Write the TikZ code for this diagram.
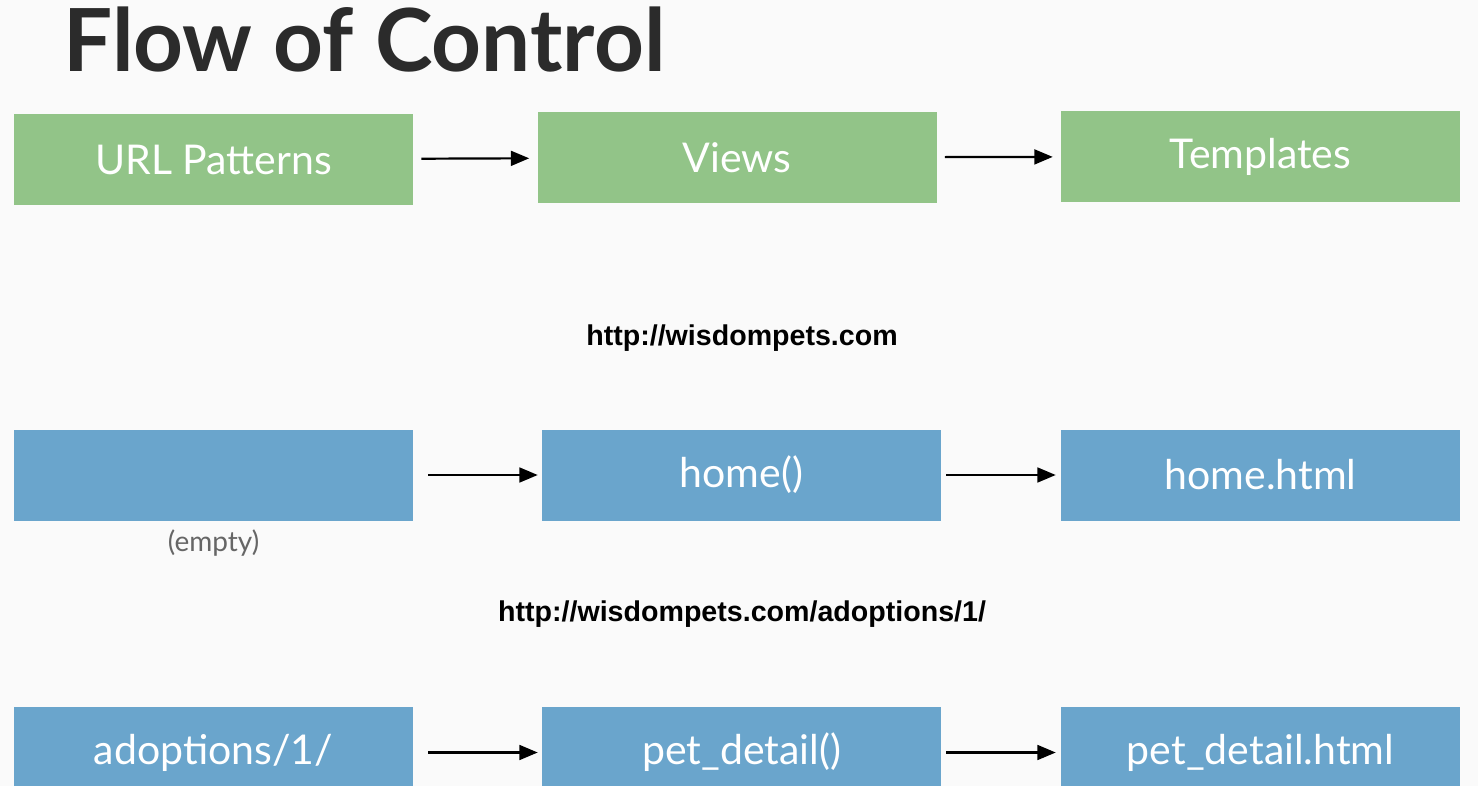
\documentclass[tikz,border=0pt]{standalone}
\usepackage{fontspec}
\setmainfont{Lato}
\newfontfamily\urlfont{Liberation Sans}
\usetikzlibrary{arrows}
\definecolor{boxgreen}{HTML}{92C488}
\definecolor{boxblue}{HTML}{6AA5CC}
\definecolor{titlegray}{HTML}{2B2B2B}
\tikzset{
  box/.style={fill=#1, text=white, minimum width=199.5pt, minimum height=45.5pt, inner sep=0pt, font=\fontsize{20.5}{24}\selectfont},
  url/.style={font=\urlfont\bfseries\fontsize{14.3}{17}\selectfont},
  flow/.style={->, >=triangle 45, line width=1.1pt, shorten <=4pt, shorten >=4pt}
}
\begin{document}
\begin{tikzpicture}[x=0.5pt, y=-0.5pt]
  \useasboundingbox[fill=white!98!black] (0,0) rectangle (1478,786);
  \node[anchor=base west, text=titlegray, font=\bfseries\fontsize{43.5}{50}\selectfont, inner sep=0pt] (title) at (63,72) {Flow of Control};
  % green header row
  \node[box=boxgreen] (pat) at (213.5,159.5) {URL Patterns};
  \node[box=boxgreen] (view) at (737,157.5) {Views};
  \node[box=boxgreen] (tmpl) at (1260.5,156.5) {Templates};
  \path[flow]
  (pat) edge (view)
  (view) edge (tmpl);
  % first request
  \node[url] (home-url) at (742,338) {http://wisdompets.com};
  \node[box=boxblue] (pat-1) at (213.5,475) {};
  \node[box=boxblue] (view-1) at (741.5,475) {home()};
  \node[box=boxblue] (tmpl-1) at (1260.5,475) {home.html};
  \node[text=black!60, font=\fontsize{14}{16}\selectfont] (empty) at (213.5,543) {(empty)};
  \path[flow]
  (pat-1) edge[shorten <=7.5pt, shorten >=2pt] (view-1)
  (view-1) edge[shorten <=2.5pt, shorten >=2.5pt] (tmpl-1);
  % second request
  \node[url] (pet-url) at (742,614) {http://wisdompets.com/adoptions/1/};
  \node[box=boxblue] (pat-2) at (213.5,752.5) {adoptions/1/};
  \node[box=boxblue] (view-2) at (741.5,752.5) {pet\_detail()};
  \node[box=boxblue] (tmpl-2) at (1260.5,752.5) {pet\_detail.html};
  \path[flow]
  (pat-2) edge[shorten <=7.5pt, shorten >=2pt] (view-2)
  (view-2) edge[shorten <=2.5pt, shorten >=2.5pt] (tmpl-2);
\end{tikzpicture}
\end{document}
